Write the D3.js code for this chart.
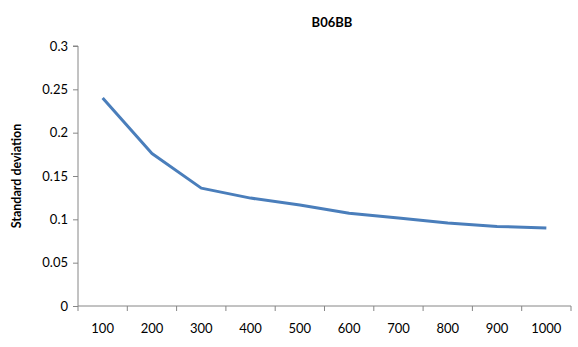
<!DOCTYPE html>
<html>
<head>
<meta charset="utf-8">
<script src="https://cdn.jsdelivr.net/npm/d3@7"></script>
<style>
  body { margin: 0; background: #fff; }
  text { font-family: Lato, "Open Sans", sans-serif; fill: #000; }
</style>
</head>
<body>
<svg id="chart" width="578" height="347"></svg>
<script>
// values
var title = "B06BB"
var yLabel = "Standard deviation"
var sizes = ["100","200","300","400","500","600","700","800","900","1000"]
var stdDev = [0.240, 0.176, 0.136, 0.1245, 0.1165, 0.107, 0.1015, 0.0957, 0.0918, 0.0899]
var yTicks = [0, 0.05, 0.1, 0.15, 0.2, 0.25, 0.3]

var svg = d3.select("#chart")
var plotLeft = 78, plotRight = 571, plotTop = 46, plotBottom = 306

var x = d3.scaleBand().domain(sizes).range([plotLeft, plotRight])
var y = d3.scaleLinear().domain([0, 0.3]).range([plotBottom, plotTop])

// y axis
var yAxis = svg.append("g")
    .attr("transform", "translate(" + plotLeft + ",0)")
    .call(d3.axisLeft(y).tickValues(yTicks).tickSize(5).tickPadding(5).tickFormat(function(d){return String(+d.toFixed(2))}))
yAxis.selectAll("path, line").attr("stroke", "#868686")
yAxis.selectAll("text").style("font-size", "13px").style("font-family", "Lato, sans-serif").attr("fill", "#000")
yAxis.select(".domain").attr("d", "M0," + plotBottom + "V" + plotTop + "H-5")

// x axis: tick marks on band edges, labels in the middle
var xg = svg.append("g").attr("transform", "translate(0," + plotBottom + ")")
xg.append("line").attr("x1", plotLeft).attr("x2", plotRight).attr("stroke", "#868686")
var edges = sizes.map(function(d){return x(d)}).concat([plotRight])
xg.selectAll("line.tk").data(edges).enter().append("line")
    .attr("class", "tk")
    .attr("x1", function(d){return d}).attr("x2", function(d){return d})
    .attr("y1", 0).attr("y2", 5)
    .attr("stroke", "#868686")
xg.selectAll("text").data(sizes).enter().append("text")
    .attr("x", function(d){return x(d) + x.bandwidth()/2})
    .attr("y", 27)
    .attr("text-anchor", "middle")
    .style("font-size", "13px")
    .text(function(d){return d})

// series line
var line = d3.line()
    .x(function(d, i){return x(sizes[i]) + x.bandwidth()/2})
    .y(function(d){return y(d)})
svg.append("path")
    .datum(stdDev)
    .attr("d", line)
    .attr("fill", "none")
    .attr("stroke", "#4a7ebb")
    .attr("stroke-width", 3)
    .attr("stroke-linejoin", "round")

// titles
svg.append("text")
    .attr("x", 332).attr("y", 27)
    .attr("text-anchor", "middle")
    .style("font-size", "13px").style("font-weight", "bold")
    .text(title)
svg.append("text")
    .attr("transform", "translate(21," + (plotTop + plotBottom)/2 + ") rotate(-90)")
    .attr("text-anchor", "middle")
    .style("font-size", "12.5px").style("font-weight", "bold")
    .text(yLabel)
</script>
</body>
</html>
